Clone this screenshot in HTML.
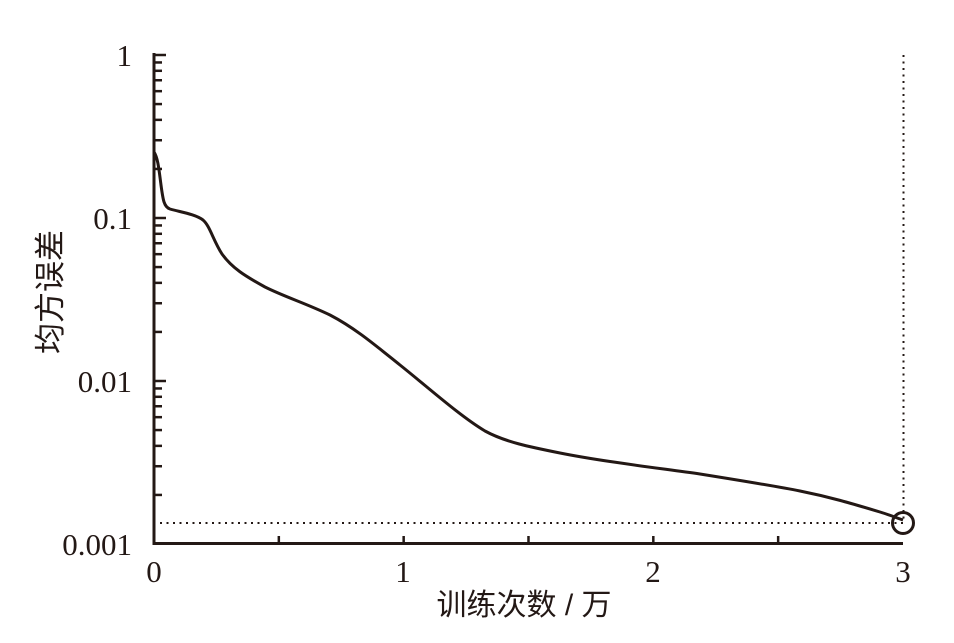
<!DOCTYPE html>
<html><head><meta charset="utf-8"><style>
html,body{margin:0;padding:0;background:#fff;}
svg{display:block;}
</style></head><body>
<svg width="954" height="643" xmlns="http://www.w3.org/2000/svg">
<g stroke="#231815" fill="none">
<line x1="154" y1="53" x2="154" y2="545" stroke-width="3"/>
<line x1="152.5" y1="543.5" x2="903" y2="543.5" stroke-width="3"/>
<g id="ticks" stroke-width="2.5"></g>
<path stroke-width="3" stroke-linejoin="round" d="M154,152 C158,158 159,170 161,185 C163,200 164,207 170,209 C180,212 195,214 203,220 C210,226 213,240 222,254 C232,268 245,276 265,287 C285,297 305,303 330,315 C355,328 375,345 400,365 C430,389 460,416 485,431 C505,442 530,447 560,453 C600,461 650,467 700,474 C750,482 780,487 800,491 C830,497 850,503 880,512 C890,515 897,518 903,520"/>
<line x1="160" y1="523" x2="903" y2="523" stroke-width="2" stroke-dasharray="2,4.5"/>
<line x1="903.5" y1="55" x2="903.5" y2="523" stroke-width="2" stroke-dasharray="2,4.5"/>
<circle cx="903" cy="523" r="10.5" stroke-width="3"/>
</g>
<g font-family="Liberation Serif, serif" font-size="31" fill="#231815" text-anchor="end">
<text x="132" y="66">1</text>
<text x="132" y="229">0.1</text>
<text x="132" y="392">0.01</text>
<text x="132" y="555">0.001</text>
</g>
<g font-family="Liberation Serif, serif" font-size="31" fill="#231815" text-anchor="middle">
<text x="154" y="582">0</text>
<text x="403" y="582">1</text>
<text x="653" y="582">2</text>
<text x="903" y="582">3</text>
</g>
<text x="524" y="615" font-family="Liberation Sans, 'Noto Sans CJK SC', sans-serif" font-size="30" fill="#231815" text-anchor="middle">训练次数 / 万</text>
<text transform="translate(61,292) rotate(-90)" font-family="Liberation Sans, 'Noto Sans CJK SC', sans-serif" font-size="31" fill="#231815" text-anchor="middle">均方误差</text>
</svg>
<script>
var g=document.getElementById('ticks'),s='';
for(var d=0;d<3;d++){var base=544-163*d;
 s+='<line x1="154" y1="'+(base-163)+'" x2="166" y2="'+(base-163)+'"/>';
 for(var k=2;k<10;k++){var y=base-163*Math.log10(k);s+='<line x1="154" y1="'+y+'" x2="162" y2="'+y+'"/>';}}
for(var i=1;i<6;i++){var x=154+124.83*i;s+='<line x1="'+x+'" y1="543" x2="'+x+'" y2="536"/>';}
g.innerHTML=s;
</script>
</body></html>
